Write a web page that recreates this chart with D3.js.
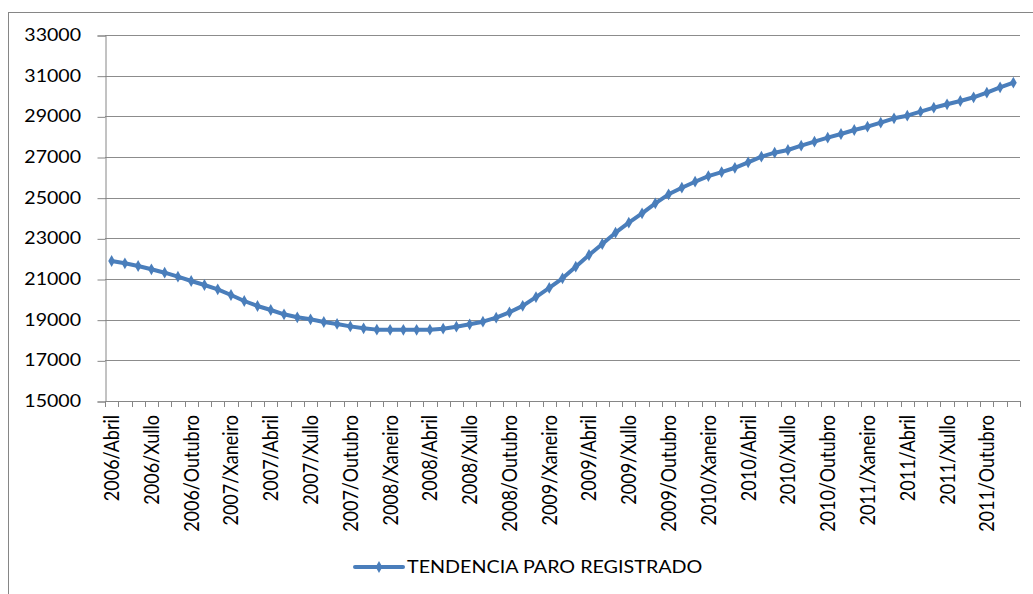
<!DOCTYPE html>
<html lang="gl">
<head>
<meta charset="utf-8">
<title>Tendencia paro rexistrado</title>
<script src="https://cdnjs.cloudflare.com/ajax/libs/d3/7.8.5/d3.min.js"></script>
<style>
  body { margin: 0; background: #fff; }
  text { font-family: Lato, "Open Sans", sans-serif; fill: #000; }
  .line { fill: none; stroke: #4a7ebb; stroke-width: 4px; stroke-linejoin: round; }
</style>
</head>
<body>
<script>
// categories: monthly, from 2006/Abril to 2011/Decembro
var months = ["Xaneiro", "Febreiro", "Marzo", "Abril", "Maio", "Xuño", "Xullo",
              "Agosto", "Setembro", "Outubro", "Novembro", "Decembro"];
var categories = [];
for (var yr = 2006; yr <= 2011; yr++) {
  months.forEach(function(m, k) {
    if (yr === 2006 && k < 3) return;
    categories.push(yr + "/" + m);
  });
}

// TENDENCIA PARO REGISTRADO
var values = [21885, 21772, 21639, 21477, 21310, 21113, 20902, 20705, 20493, 20213,
              19918, 19672, 19475, 19264, 19116, 19018, 18885, 18790, 18670, 18575,
              18510, 18500, 18500, 18500, 18510, 18556, 18654, 18772, 18900, 19097,
              19362, 19680, 20110, 20560, 21034, 21605, 22180, 22721, 23277, 23769,
              24231, 24723, 25166, 25490, 25785, 26063, 26260, 26470, 26739, 27015,
              27212, 27344, 27556, 27753, 27950, 28131, 28328, 28490, 28687, 28903,
              29031, 29228, 29425, 29592, 29754, 29936, 30163, 30425, 30655];

var yTicks = [15000, 17000, 19000, 21000, 23000, 25000, 27000, 29000, 31000, 33000];
var seriesName = "TENDENCIA PARO REGISTRADO";

var W = 1033, H = 594;
var plotL = 105, plotR = 1020, plotT = 35, plotB = 401;
var stretch = 1.15; // text in the original is a bit wide

var svg = d3.select("body").append("svg")
    .attr("width", W)
    .attr("height", H);

// chart border
svg.append("rect")
    .attr("x", 8.5).attr("y", 12.5)
    .attr("width", 1100).attr("height", 700)
    .attr("fill", "none")
    .attr("stroke", "#868686");

var x = d3.scaleBand().domain(categories).range([plotL, plotR]);
var y = d3.scaleLinear().domain([15000, 33000]).range([plotB, plotT]);

// gridlines
svg.append("g").selectAll("line")
    .data(yTicks.slice(1))
    .enter().append("line")
    .attr("x1", plotL).attr("x2", plotR)
    .attr("y1", function(d) { return Math.round(y(d)) + 0.5; })
    .attr("y2", function(d) { return Math.round(y(d)) + 0.5; })
    .attr("stroke", "#8c8c8c")
    .attr("stroke-width", 1);

// y axis
var yAxis = svg.append("g")
    .attr("transform", "translate(" + (plotL + 0.5) + ",0.5)")
    .call(d3.axisLeft(y).tickValues(yTicks).tickSize(8).tickFormat(""));
yAxis.select(".domain").attr("stroke", "#868686");
yAxis.selectAll(".tick line").attr("stroke", "#868686");

svg.append("g").selectAll("text")
    .data(yTicks)
    .enter().append("text")
    .attr("transform", function(d) { return "translate(81," + y(d) + ") scale(" + stretch + ",1)"; })
    .attr("dy", "0.36em")
    .attr("text-anchor", "end")
    .style("font-size", "17px")
    .text(d3.format("d"));

// x axis: line, ticks between categories
var xg = svg.append("g");
xg.append("line")
    .attr("x1", plotL).attr("x2", plotR)
    .attr("y1", plotB + 0.5).attr("y2", plotB + 0.5)
    .attr("stroke", "#868686");
xg.selectAll(".xt")
    .data(categories.concat(["end"]))
    .enter().append("line")
    .attr("class", "xt")
    .attr("x1", function(d, i) { return Math.round(plotL + i * x.step()) + 0.5; })
    .attr("x2", function(d, i) { return Math.round(plotL + i * x.step()) + 0.5; })
    .attr("y1", plotB).attr("y2", plotB + 6)
    .attr("stroke", "#868686");
xg.selectAll(".xl")
    .data(categories.filter(function(d, i) { return i % 3 === 0; }))
    .enter().append("text")
    .attr("class", "xl")
    .attr("transform", function(d) {
      return "translate(" + (x(d) + x.bandwidth() / 2) + "," + (plotB + 14) + ") rotate(-90) scale(1," + stretch + ")";
    })
    .attr("dy", "0.36em")
    .attr("text-anchor", "end")
    .style("font-size", "18px")
    .text(function(d) { return d; });

// series line + markers
var line = d3.line()
    .x(function(d, i) { return x(categories[i]) + x.bandwidth() / 2; })
    .y(function(d) { return y(d); });

svg.append("path")
    .datum(values)
    .attr("class", "line")
    .attr("d", line);

var diamond = d3.symbol().type(d3.symbolDiamond).size(40);
svg.append("g").selectAll("path")
    .data(values)
    .enter().append("path")
    .attr("d", diamond)
    .attr("transform", function(d, i) {
      return "translate(" + (x(categories[i]) + x.bandwidth() / 2) + "," + y(d) + ")";
    })
    .attr("fill", "#4a7ebb");

// legend
var lg = svg.append("g").attr("transform", "translate(355,567)");
lg.append("line")
    .attr("x1", 0).attr("x2", 48)
    .attr("stroke", "#4a7ebb").attr("stroke-width", 4)
    .attr("stroke-linecap", "round");
lg.append("path").attr("d", diamond).attr("transform", "translate(24,0)").attr("fill", "#4a7ebb");
lg.append("text")
    .attr("transform", "translate(52,0) scale(" + (stretch + 0.01) + ",1)")
    .attr("dy", "0.36em")
    .style("font-size", "17px")
    .text(seriesName);
</script>
</body>
</html>
